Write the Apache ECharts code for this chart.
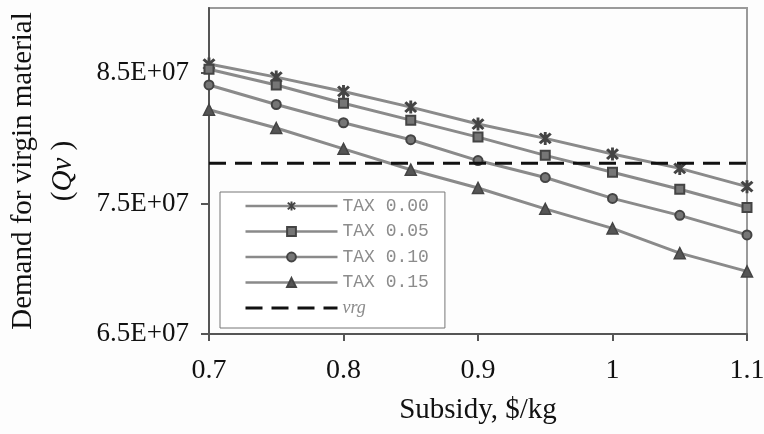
<!DOCTYPE html>
<html>
<head>
<meta charset="utf-8">
<script src="https://cdn.jsdelivr.net/npm/echarts@6/dist/echarts.min.js"></script>
<style>
  html, body { margin: 0; padding: 0; background: #fdfdfd; }
  #chart { width: 764px; height: 434px; }
</style>
</head>
<body>
<div id="chart"></div>
<script>
// Subsidy levels ($/kg) on the x axis
const subsidy = [0.7, 0.75, 0.8, 0.85, 0.9, 0.95, 1.0, 1.05, 1.1];

// Demand for virgin material under each tax level
const tax000 = [8.57e7, 8.47e7, 8.36e7, 8.24e7, 8.11e7, 8.00e7, 7.88e7, 7.77e7, 7.63e7];
const tax005 = [8.53e7, 8.41e7, 8.27e7, 8.14e7, 8.01e7, 7.87e7, 7.74e7, 7.61e7, 7.47e7];
const tax010 = [8.41e7, 8.26e7, 8.12e7, 7.99e7, 7.83e7, 7.70e7, 7.54e7, 7.41e7, 7.26e7];
const tax015 = [8.22e7, 8.08e7, 7.92e7, 7.76e7, 7.62e7, 7.46e7, 7.31e7, 7.12e7, 6.98e7];

// Reference level of virgin material
const vrgLevel = 7.81e7;

const seriesNames = ['TAX 0.00', 'TAX 0.05', 'TAX 0.10', 'TAX 0.15', 'vrg'];

// Axis ticks
const yTicks = [6.5e7, 7.5e7, 8.5e7];
const xMin = 0.7, xMax = 1.1, xStep = 0.1;
const yMin = 6.5e7, yMax = 9.0e7;

// Asterisk marker: vertical bar crossed by two diagonals
const starPath = 'path://M8,0 L12,0 L12,20 L8,20 Z M1,4 L4,1 L19,16 L16,19 Z M16,1 L19,4 L4,19 L1,16 Z';

const pairs = (ys) => subsidy.map((x, i) => [x, ys[i]]);

const lineCommon = {
  type: 'line',
  lineStyle: { color: '#8a8a8a', width: 3 },
  z: 2
};

const chart = echarts.init(document.getElementById('chart'), null, { renderer: 'canvas' });

chart.setOption({
  backgroundColor: '#fdfdfd',
  animation: false,
  grid: {
    left: 209, right: 17, top: 8, bottom: 100,
    outerBoundsMode: 'none',
    containLabel: false,
    show: true,
    backgroundColor: 'transparent',
    borderColor: '#9a9a9a',
    borderWidth: 2
  },
  legend: {
    orient: 'vertical',
    left: 220,
    top: 192,
    padding: [5, 16, 11, 24],
    itemWidth: 92,
    itemHeight: 11,
    itemGap: 7.5,
    backgroundColor: '#ffffff',
    borderColor: '#777777',
    borderWidth: 1,
    lineStyle: { width: 2.5 },
    data: seriesNames.map((name) => name === 'vrg'
      ? { name: name, itemStyle: { opacity: 0 }, lineStyle: { width: 3 } }
      : { name: name }),
    formatter: (name) => name === 'vrg' ? '{v|' + name + '}' : '{t|' + name + '}',
    textStyle: {
      rich: {
        t: { fontFamily: 'Liberation Mono', fontSize: 18, color: '#8c8c8c', lineHeight: 18 },
        v: { fontFamily: 'Liberation Serif', fontStyle: 'italic', fontSize: 18, color: '#8c8c8c', lineHeight: 18 }
      }
    }
  },
  xAxis: {
    type: 'value',
    min: xMin,
    max: xMax,
    interval: xStep,
    name: 'Subsidy, $/kg',
    nameLocation: 'middle',
    nameGap: 62,
    nameTextStyle: { fontFamily: 'Liberation Serif', fontSize: 29, color: '#111' },
    axisLine: { show: true, lineStyle: { color: '#555', width: 2 } },
    axisTick: { show: true, inside: false, length: 7, lineStyle: { color: '#555', width: 2 } },
    axisLabel: {
      margin: 23,
      fontFamily: 'Liberation Serif',
      fontSize: 28,
      color: '#111',
      formatter: (v) => String(Math.round(v * 10) / 10)
    },
    splitLine: { show: false }
  },
  yAxis: {
    type: 'value',
    min: yMin,
    max: yMax,
    name: '{n|Demand for virgin material}\n{n|(}{i|Qv}{n| )}',
    nameLocation: 'middle',
    nameRotate: 90,
    nameGap: 126,
    nameTextStyle: {
      rich: {
        n: { fontFamily: 'Liberation Serif', fontSize: 29, color: '#111', lineHeight: 40 },
        i: { fontFamily: 'Liberation Serif', fontStyle: 'italic', fontSize: 29, color: '#111', lineHeight: 40 }
      }
    },
    axisLine: { show: true, lineStyle: { color: '#555', width: 2 } },
    axisTick: { show: true, inside: false, length: 8, customValues: yTicks, lineStyle: { color: '#555', width: 2 } },
    axisLabel: {
      customValues: yTicks,
      margin: 20,
      fontFamily: 'Liberation Serif',
      fontSize: 27,
      color: '#111',
      formatter: (v) => (v / 1e7).toFixed(1) + 'E+07'
    },
    splitLine: { show: false }
  },
  series: [
    Object.assign({}, lineCommon, {
      name: seriesNames[0],
      data: pairs(tax000),
      symbol: starPath,
      symbolSize: 13,
      itemStyle: { color: '#444444' }
    }),
    Object.assign({}, lineCommon, {
      name: seriesNames[1],
      data: pairs(tax005),
      symbol: 'rect',
      symbolSize: 9,
      itemStyle: { color: '#767676', borderColor: '#444444', borderWidth: 2 }
    }),
    Object.assign({}, lineCommon, {
      name: seriesNames[2],
      data: pairs(tax010),
      symbol: 'circle',
      symbolSize: 9,
      itemStyle: { color: '#767676', borderColor: '#444444', borderWidth: 2 }
    }),
    Object.assign({}, lineCommon, {
      name: seriesNames[3],
      data: pairs(tax015),
      symbol: 'triangle',
      symbolSize: 11,
      itemStyle: { color: '#555555', borderColor: '#444444', borderWidth: 1.5 }
    }),
    {
      name: seriesNames[4],
      type: 'line',
      data: [[xMin, vrgLevel], [xMax, vrgLevel]],
      symbol: 'none',
      lineStyle: { color: '#111', width: 3, type: [17, 9] },
      itemStyle: { color: '#111' },
      z: 3
    }
  ]
});
</script>
</body>
</html>
